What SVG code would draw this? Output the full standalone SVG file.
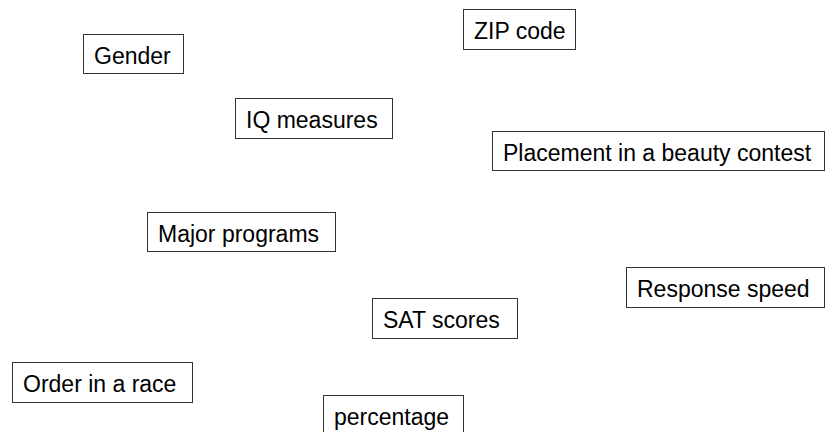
<svg xmlns="http://www.w3.org/2000/svg" width="826" height="432" viewBox="0 0 826 432">
<style>
.box{fill:#fff;stroke:#333;stroke-width:1}
.lbl{font-family:"Liberation Sans",Arial,sans-serif;font-size:23px;fill:#000}
</style>
<rect width="826" height="432" fill="#fff"/>
<g id="connectors"></g>
<g id="gender"><rect class="box" x="83.5" y="34.5" width="100" height="39"/><text class="lbl" x="94" y="63.5">Gender</text></g>
<g id="zip"><rect class="box" x="463.5" y="9.5" width="112" height="40"/><text class="lbl" x="474" y="38.5">ZIP code</text></g>
<g id="iq"><rect class="box" x="235.5" y="98.5" width="157" height="40"/><text class="lbl" x="246" y="127.5">IQ measures</text></g>
<g id="beauty"><rect class="box" x="492.5" y="131.5" width="332" height="39"/><text class="lbl" x="503" y="160.5">Placement in a beauty contest</text></g>
<g id="major"><rect class="box" x="147.5" y="212.5" width="188" height="39"/><text class="lbl" x="158" y="241.5">Major programs</text></g>
<g id="response"><rect class="box" x="626.5" y="267.5" width="198" height="40"/><text class="lbl" x="637" y="296.5">Response speed</text></g>
<g id="sat"><rect class="box" x="372.5" y="298.5" width="145" height="40"/><text class="lbl" x="383" y="327.5">SAT scores</text></g>
<g id="race"><rect class="box" x="12.5" y="362.5" width="180" height="40"/><text class="lbl" x="23" y="391.5">Order in a race</text></g>
<g id="percentage"><rect class="box" x="323.5" y="395.5" width="140" height="50"/><text class="lbl" x="334" y="424.5">percentage</text></g>
</svg>
